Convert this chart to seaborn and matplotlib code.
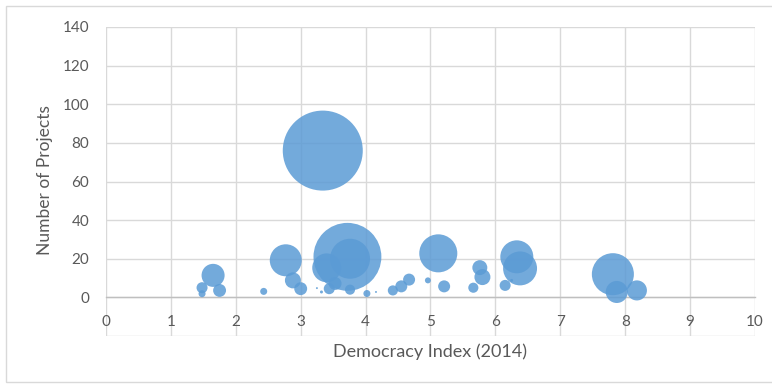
import matplotlib
matplotlib.use("Agg")
import matplotlib.pyplot as plt
import seaborn as sns
import pandas as pd
from matplotlib.patches import Rectangle
from matplotlib.ticker import FixedLocator, FixedFormatter

# Democracy index (x), number of projects (y), bubble size (relative area)
democracy_index = [3.34, 3.72, 3.76, 3.40, 2.77, 2.88, 3.00, 3.44, 3.53, 3.76,
                   4.02, 3.32, 3.25, 4.16, 4.42, 1.65, 1.48, 1.48, 1.75, 2.43,
                   4.55, 4.67, 4.96, 5.12, 5.21, 5.66, 5.76, 5.80, 6.15, 6.25,
                   6.33, 6.38, 7.81, 7.87, 8.18]
num_projects = [76, 21, 20, 15.3, 19.2, 8.8, 4.5, 4.5, 7.2, 4.0,
                2.0, 2.8, 4.8, 2.8, 3.6, 11.4, 5.0, 1.9, 3.6, 3.1,
                5.7, 9.2, 8.8, 22.8, 5.7, 5.0, 15.4, 10.5, 6.2, 8.8,
                21, 15, 12, 2.8, 3.6]
bubble_size = [100, 72, 25, 13, 16, 4.0, 2.6, 1.9, 2.6, 1.6,
               0.77, 0.14, 0.06, 0.06, 1.6, 8.3, 1.9, 0.77, 2.6, 0.77,
               2.25, 2.25, 0.56, 22.6, 2.25, 1.6, 3.5, 4.0, 1.9, 0.14,
               17, 18, 27.6, 7.6, 6.3]

x_ticks = [0, 1, 2, 3, 4, 5, 6, 7, 8, 9, 10]
y_ticks = [-20, 0, 20, 40, 60, 80, 100, 120, 140]
y_tick_labels = ["", "0", "20", "40", "60", "80", "100", "120", "140"]

df = pd.DataFrame({"x": democracy_index, "y": num_projects, "s": bubble_size})

sns.set_theme(style="white")
plt.rcParams["font.family"] = ["Lato", "DejaVu Sans"]

W, H = 772, 386
fig = plt.figure(figsize=(W / 100, H / 100), dpi=100)
fig.patch.set_facecolor("white")
ax = fig.add_axes([106 / W, 1 - 336 / H, (755 - 106) / W, (336 - 27) / H])

k = 33.18
vmin, vmax = min(bubble_size), max(bubble_size)
sns.scatterplot(data=df, x="x", y="y", size="s", sizes=(k * vmin, k * vmax),
                size_norm=(vmin, vmax), color="#5B9BD5", alpha=0.85,
                edgecolor="none", linewidth=0, legend=False, ax=ax, zorder=3)

ax.set_xlim(0, 10)
ax.set_ylim(-20, 140)
ax.xaxis.set_major_locator(FixedLocator(x_ticks))
ax.yaxis.set_major_locator(FixedLocator(y_ticks))
ax.yaxis.set_major_formatter(FixedFormatter(y_tick_labels))
ax.grid(True, color="#D9D9D9", linewidth=1.0)
ax.set_axisbelow(True)

for s in ["top", "right", "left"]:
    ax.spines[s].set_visible(False)
ax.spines["bottom"].set_position(("data", 0))
ax.spines["bottom"].set_color("#BFBFBF")
ax.spines["bottom"].set_linewidth(1.0)
ax.spines["bottom"].set_zorder(2)

ax.tick_params(axis="both", length=0, labelsize=11, labelcolor="#595959")
ax.tick_params(axis="x", pad=12.5)
ax.tick_params(axis="y", pad=12)

ax.set_xlabel("Democracy Index (2014)", fontsize=13, color="#595959")
ax.set_ylabel("Number of Projects", fontsize=12.5, color="#595959")
ax.xaxis.set_label_coords(0.5, -(343 - 336) / 309)
ax.yaxis.set_label_coords(-(106 - 53) / 649, (336 - 180) / 309)

fig.add_artist(Rectangle((6 / W, 1 - 382 / H), (780 - 6) / W, (382 - 6) / H,
                         transform=fig.transFigure, fill=False,
                         edgecolor="#D9D9D9", linewidth=1.0))

fig.savefig("out.png", dpi=100, facecolor="white")
